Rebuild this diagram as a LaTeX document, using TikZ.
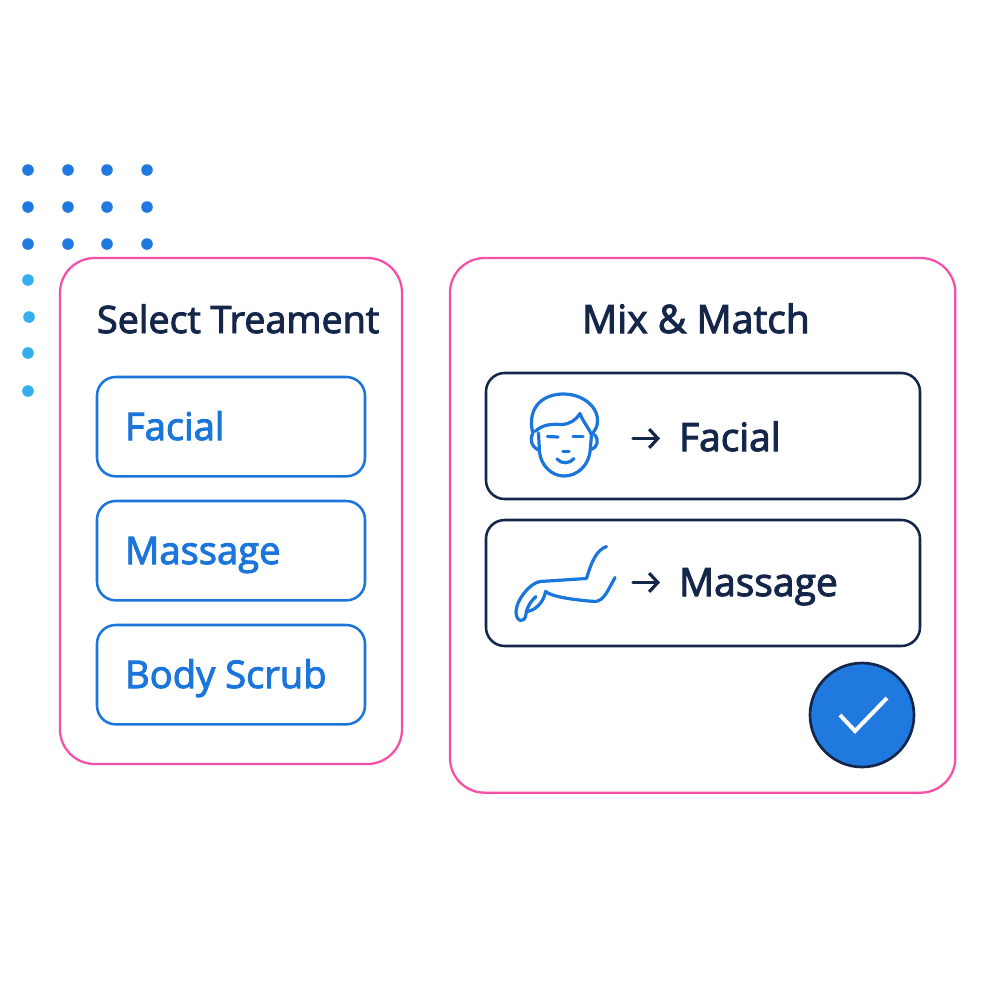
\documentclass[tikz,border=0pt]{standalone}
\usepackage{xcolor}
\usepackage{fontspec}
\setmainfont{Open Sans}[FakeBold=2.6]
\usetikzlibrary{arrows.meta}

\definecolor{panelpink}{HTML}{F54FA8}
\definecolor{itemblue}{HTML}{1B76DC}
\definecolor{inkblue}{HTML}{14264A}
\definecolor{dotblue}{HTML}{2079DF}
\definecolor{dotsky}{HTML}{35AEEE}

\tikzset{
  panelbox/.style={draw=panelpink,line width=1.7pt,rounded corners=26pt,anchor=north west,inner sep=0pt,outer sep=0pt},
  itembox/.style={draw=itemblue,line width=1.9pt,rounded corners=14pt,anchor=north west,inner sep=0pt,outer sep=0pt,minimum width=201pt,minimum height=74.5pt},
  rowbox/.style={draw=inkblue,line width=1.9pt,rounded corners=14pt,anchor=north west,inner sep=0pt,outer sep=0pt,minimum width=325.5pt,minimum height=94.5pt},
  headtext/.style={anchor=base west,inner sep=0pt,outer sep=0pt,text=inkblue,font=\fontsize{28.3}{34}\selectfont},
  itemtext/.style={anchor=base west,inner sep=0pt,outer sep=0pt,text=itemblue,font=\fontsize{28.6}{34}\selectfont},
  rowtext/.style={anchor=base west,inner sep=0pt,outer sep=0pt,text=inkblue,font=\fontsize{29.2}{35}\selectfont},
  iconline/.style={draw=itemblue,line width=2.4pt,line cap=round,line join=round},
  flowarrow/.style={draw=inkblue,line width=2.4pt,line cap=round,-{Straight Barb[length=6.5pt,width=14pt,line width=2.4pt]}},
  dotdark/.style={fill=dotblue},
  dotlight/.style={fill=dotsky},
}

\begin{document}
\begin{tikzpicture}[x=0.75pt,y=0.75pt,yscale=-1,xscale=1]
\useasboundingbox (0,0) rectangle (1000,1000);

%Dots
\fill[dotdark] (28,170) circle (5.8);
\fill[dotdark] (68,170) circle (5.8);
\fill[dotdark] (107,170) circle (5.8);
\fill[dotdark] (147,170) circle (5.8);
\fill[dotdark] (28,207) circle (5.8);
\fill[dotdark] (68,207) circle (5.8);
\fill[dotdark] (107,207) circle (5.8);
\fill[dotdark] (147,207) circle (5.8);
\fill[dotdark] (28,244) circle (5.8);
\fill[dotdark] (68,244) circle (5.8);
\fill[dotdark] (107,244) circle (5.8);
\fill[dotdark] (147,244) circle (5.8);
\fill[dotlight] (28,280) circle (5.8);
\fill[dotlight] (29,317) circle (5.8);
\fill[dotlight] (28,353) circle (5.8);
\fill[dotlight] (28,391) circle (5.8);

%Panels
\node (selectpanel) [panelbox,fill=white,minimum width=256.5pt,minimum height=379.5pt] at (60,258) {};
\node (mixpanel) [panelbox,fill=white,minimum width=379pt,minimum height=401pt] at (450,258) {};

%Left column
\node (selecthead) [headtext] at (97,333) {Select Treament};
\node (facialbox) [itembox] at (97,377) {};
\node (massagebox) [itembox] at (97,501) {};
\node (scrubbox) [itembox] at (97,625) {};
\node (faciallabel) [itemtext] at (125,440) {Facial};
\node (massagelabel) [itemtext] at (125,564) {Massage};
\node (scrublabel) [itemtext] at (125,688) {Body Scrub};

%Right column
\node (mixhead) [headtext,font=\fontsize{29.3}{35}\selectfont] at (582,333) {Mix \& Match};
\node (facerow) [rowbox] at (486,373) {};
\node (armrow) [rowbox] at (486,520) {};
\node (facetarget) [rowtext] at (679,451) {Facial};
\node (armtarget) [rowtext] at (679,596) {Massage};

%Face icon
\draw[iconline] (532.5,432) .. controls (527,405) and (545,394) .. (563.5,394) .. controls (585,394) and (602,410) .. (596.5,427) -- (592,435);
\draw[iconline] (535,431.5) .. controls (543,424) and (552,424) .. (562,424.5) .. controls (570,424) and (576,420) .. (580,413.5) .. controls (583,422) and (589,428) .. (591.5,435);
\draw[iconline] (538.5,433) -- (539.5,452) .. controls (541,466) and (552,476) .. (564,476) .. controls (577,476) and (588,466) .. (590,452) -- (591.5,435);
\draw[iconline] (533,433) .. controls (530,437) and (530,446) .. (538.5,450);
\draw[iconline] (595,435) .. controls (599,440) and (598,447) .. (591,449.5);
\draw[iconline] (547.5,436.5) -- (558,437);
\draw[iconline] (573,436.5) -- (583,436.5);
\draw[iconline] (563,451.5) -- (569,451.5);
\draw[iconline] (557,459) .. controls (561,464) and (570,464) .. (574,458.5);

%Arm icon
\draw[iconline] (606.5,546.5) .. controls (597,550) and (592,560) .. (586.5,578.5) -- (540,581.5) .. controls (530,583) and (516,600) .. (516,612) .. controls (516,622) and (525,624) .. (526,614) .. controls (527,606) and (532,600) .. (536,596.5);
\draw[iconline] (526.5,611.5) .. controls (535,611) and (544,602) .. (545.5,591.5) .. controls (552,597) and (575,600) .. (595,601.5) .. controls (604,601) and (608,590) .. (615,577.5);

%Arrows
\coordinate (facetail) at (633,438.5);
\coordinate (facetip) at (660,438.5);
\coordinate (armtail) at (633,582.5);
\coordinate (armtip) at (660,582.5);
\draw[flowarrow] (facetail) -- (facetip);
\draw[flowarrow] (armtail) -- (armtip);

%Check badge
\node (checkbadge) [circle,draw=inkblue,fill=dotblue,line width=2pt,outer sep=0pt,minimum size=78pt,inner sep=0pt] at (862,715) {};
\coordinate (checkleft) at (840,715);
\coordinate (checkmid) at (855,731);
\coordinate (checkright) at (887,698);
\draw[white,line width=3pt] (checkleft) -- (checkmid) -- (checkright);

\end{tikzpicture}
\end{document}
